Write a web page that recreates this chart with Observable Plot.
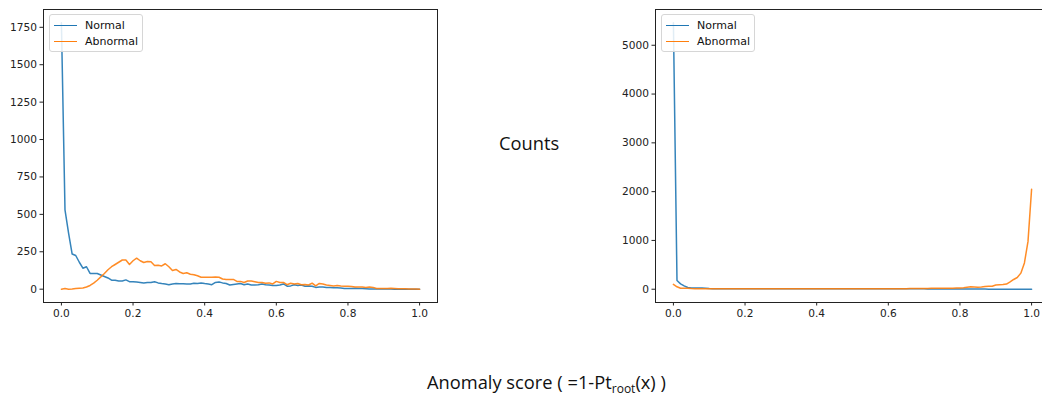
<!DOCTYPE html>
<html>
<head>
<meta charset="utf-8">
<script src="https://cdn.jsdelivr.net/npm/d3@7"></script>
<script src="https://cdn.jsdelivr.net/npm/@observablehq/plot@0.6"></script>
<style>
  html, body { margin: 0; padding: 0; background: #fff; }
  #root { position: relative; width: 1042px; height: 396px; overflow: hidden; font-family: "DejaVu Sans", sans-serif; }
  .panel { position: absolute; top: 0; }
  .legend { position: absolute; top: 14px; width: 92px; height: 36px; border: 1px solid #d6d6d6; border-radius: 3px; background: rgba(255,255,255,0.85); font: 11px "DejaVu Sans", sans-serif; color: #111; }
  .legend .row { position: absolute; left: 4px; height: 14px; display: flex; align-items: center; }
  .legend .sw { width: 23px; height: 0; border-top: 1.5px solid; margin-right: 8px; }
  .big { position: absolute; font-family: "Open Sans", sans-serif; font-size: 18.3px; line-height: 20px; color: #111; white-space: nowrap; }
  .big .sub { font-size: 12px; position: relative; top: 4px; }
</style>
</head>
<body>
<div id="root"></div>
<script>
// bin centres (anomaly score)
const scores = [0.00,0.01,0.02,0.03,0.04,0.05,0.06,0.07,0.08,0.09,0.10,0.11,0.12,0.13,0.14,0.15,0.16,0.17,0.18,0.19,0.20,0.21,0.22,0.23,0.24,0.25,0.26,0.27,0.28,0.29,0.30,0.31,0.32,0.33,0.34,0.35,0.36,0.37,0.38,0.39,0.40,0.41,0.42,0.43,0.44,0.45,0.46,0.47,0.48,0.49,0.50,0.51,0.52,0.53,0.54,0.55,0.56,0.57,0.58,0.59,0.60,0.61,0.62,0.63,0.64,0.65,0.66,0.67,0.68,0.69,0.70,0.71,0.72,0.73,0.74,0.75,0.76,0.77,0.78,0.79,0.80,0.81,0.82,0.83,0.84,0.85,0.86,0.87,0.88,0.89,0.90,0.91,0.92,0.93,0.94,0.95,0.96,0.97,0.98,0.99,1.00];

// Left panel
const leftNormal = [1780,530,375,235,225,180,140,150,105,105,105,95,85,75,60,60,55,55,62,50,50,48,45,42,45,45,50,42,38,35,30,35,38,36,36,35,35,40,38,42,38,35,30,45,48,42,38,28,32,35,38,30,35,28,28,30,35,30,28,25,25,28,35,20,22,30,25,28,20,22,20,12,15,15,12,12,10,10,8,5,5,5,6,5,4,3,2,2,2,1,1,1,1,0,0,0,0,0,0,0,0];
const leftAbnormal = [0,5,0,2,5,7,8,15,25,40,60,82,105,130,150,165,180,195,195,165,190,207,190,178,185,183,158,160,155,170,150,125,132,115,105,110,100,97,90,80,80,80,80,82,80,68,65,65,65,52,52,45,55,55,50,45,45,40,42,35,52,45,45,30,40,35,38,30,32,28,40,22,38,35,28,25,22,25,22,20,20,18,15,15,15,12,15,12,5,5,5,5,7,5,3,3,3,2,2,2,0];

// Right panel
const rightNormal = [5460,180,110,70,35,25,25,25,25,22,15,12,12,12,10,10,10,10,10,10,10,10,10,9,9,9,9,9,9,9,9,9,9,9,9,9,9,9,9,9,9,9,9,9,9,9,9,9,9,9,9,8,8,8,8,8,8,8,8,8,8,8,8,8,8,8,8,8,8,8,8,6,6,6,6,5,5,5,5,5,5,4,4,4,3,3,3,3,2,2,2,2,2,1,1,1,1,1,1,1,1];
const rightAbnormal = [100,50,20,18,20,15,12,10,12,12,10,10,10,10,10,10,10,10,10,10,10,10,10,10,10,10,10,10,10,10,10,10,10,10,10,10,10,10,10,10,10,10,10,10,10,10,10,10,10,10,10,12,12,12,12,12,12,12,12,12,12,12,12,12,12,12,14,14,14,15,15,16,18,18,18,20,20,22,22,24,25,30,40,50,45,40,45,55,60,60,85,90,95,105,150,200,240,330,540,980,2050];

const xTicks = [0, 0.2, 0.4, 0.6, 0.8, 1.0];
const leftYTicks = [0, 250, 500, 750, 1000, 1250, 1500, 1750];
const rightYTicks = [0, 1000, 2000, 3000, 4000, 5000];
const seriesNames = ["Normal", "Abnormal"];
const seriesColors = ["#1f77b4", "#ff7f0e"];

const root = document.getElementById("root");

function panel(normal, abnormal, yTicks, left) {
  const all = normal.concat(abnormal);
  const ymax = d3.max(all), ymin = d3.min(all);
  const pad = 0.05 * (ymax - ymin);
  const rows = [];
  scores.forEach((s, i) => {
    rows.push({score: s, count: normal[i], series: seriesNames[0]});
  });
  scores.forEach((s, i) => {
    rows.push({score: s, count: abnormal[i], series: seriesNames[1]});
  });
  const chart = Plot.plot({
    width: 450,
    height: 325,
    marginLeft: 43,
    marginRight: 13,
    marginTop: 9,
    marginBottom: 23,
    style: {fontFamily: "DejaVu Sans, sans-serif", fontSize: "10.6px", color: "#222", background: "white", overflow: "visible"},
    x: {domain: [-0.05, 1.05]},
    y: {domain: [ymin - pad, ymax + pad]},
    color: {domain: seriesNames, range: seriesColors},
    marks: [
      Plot.axisX({ticks: xTicks, tickFormat: d3.format(".1f"), tickSize: 3.5, tickPadding: 3, label: null, fill: "#222", stroke: "#222"}),
      Plot.axisY({ticks: yTicks, tickFormat: d => String(d), tickSize: 3.5, tickPadding: 3, label: null, fill: "#222", stroke: "#222"}),
      Plot.line(rows, {x: "score", y: "count", z: "series", stroke: "series", strokeWidth: 1.5, strokeOpacity: 0.9, curve: "linear"}),
      Plot.frame({stroke: "#222", strokeWidth: 1})
    ]
  });
  chart.classList.add("panel");
  chart.style.left = left + "px";
  root.appendChild(chart);

  const lg = document.createElement("div");
  lg.className = "legend";
  lg.style.left = (left + 49) + "px";
  seriesNames.forEach((name, i) => {
    const r = document.createElement("div");
    r.className = "row";
    r.style.top = (3 + i * 16) + "px";
    const sw = document.createElement("span");
    sw.className = "sw";
    sw.style.borderTopColor = seriesColors[i];
    const t = document.createElement("span");
    t.textContent = name;
    r.appendChild(sw); r.appendChild(t);
    lg.appendChild(r);
  });
  root.appendChild(lg);
}

panel(leftNormal, leftAbnormal, leftYTicks, 0);
panel(rightNormal, rightAbnormal, rightYTicks, 612);

const counts = document.createElement("div");
counts.className = "big";
counts.textContent = "Counts";
counts.style.left = "499px";
counts.style.top = "133px";
root.appendChild(counts);

const xl = document.createElement("div");
xl.className = "big";
xl.innerHTML = "Anomaly score ( =1-Pt<span class=\"sub\">root</span>(x) )";
xl.style.left = "427px";
xl.style.top = "372px";
root.appendChild(xl);
</script>
</body>
</html>
